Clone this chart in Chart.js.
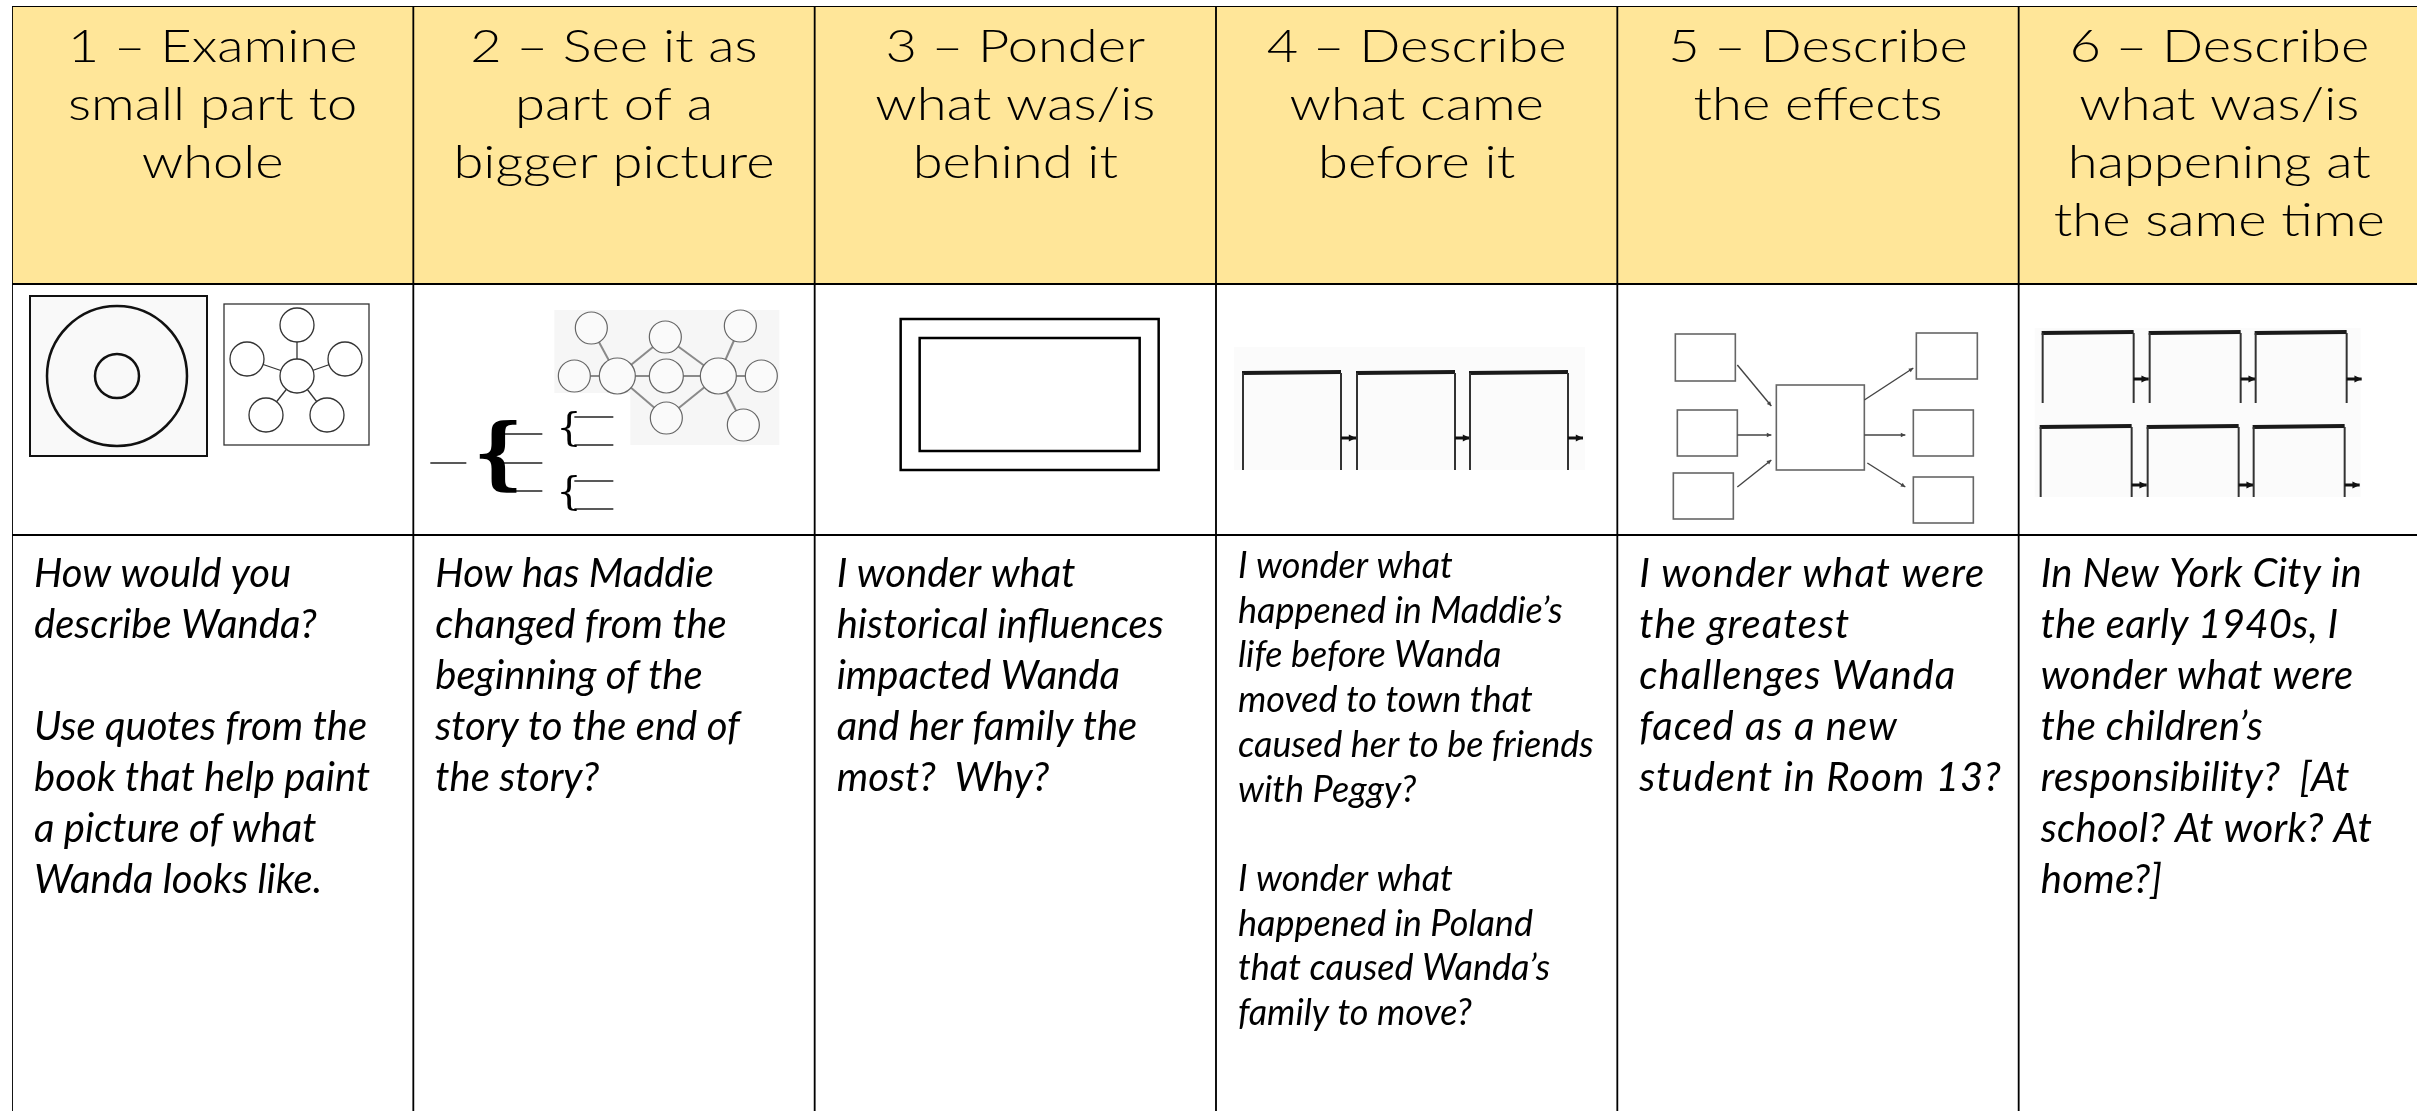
<!DOCTYPE html>
<html>
<head>
<meta charset="utf-8">
<script src="https://cdn.jsdelivr.net/npm/chart.js@4.4.1/dist/chart.umd.min.js"></script>
<style>
  html, body { margin: 0; padding: 0; background: #fff; overflow: hidden; }
  #wrap { width: 2440px; height: 1111px; }
</style>
</head>
<body>
<div id="wrap"><canvas id="table" width="2440" height="1111"></canvas></div>
<script>

// column headings, one array of lines per column
const headings = [
  ["1 – Examine", "small part to", "whole"],
  ["2 – See it as", "part of a", "bigger picture"],
  ["3 – Ponder", "what was/is", "behind it"],
  ["4 – Describe", "what came", "before it"],
  ["5 – Describe", "the effects"],
  ["6 – Describe", "what was/is", "happening at", "the same time"],
];

// prompt text in the bottom row ("" = empty line)
const prompts = [
  ["How would you", "describe Wanda?", "", "Use quotes from the", "book that help paint", "a picture of what", "Wanda looks like."],
  ["How has Maddie", "changed from the", "beginning of the", "story to the end of", "the story?"],
  ["I wonder what", "historical influences", "impacted Wanda", "and her family the", "most?  Why?"],
  ["I wonder what", "happened in Maddie’s", "life before Wanda", "moved to town that", "caused her to be friends", "with Peggy?", "", "I wonder what", "happened in Poland", "that caused Wanda’s", "family to move?"],
  ["I wonder what were", "the greatest", "challenges Wanda", "faced as a new", "student in Room 13?"],
  ["In New York City in", "the early 1940s, I", "wonder what were", "the children’s", "responsibility?  [At", "school? At work? At", "home?]"],
];

// the three table rows as floating bar ranges (table units from the top)
const rowNames = ["heading", "sketch", "prompt"];
const rowStart = [0, 278, 529];
const rowEnd = [278, 529, 1140];

const rowFill = ["#FFE699", "#FFFFFF", "#FFFFFF"];

// per column text look for the prompt row
const promptStyle = [
  { size: 40, lead: 51, first: 52, spacing: 0 },
  { size: 40, lead: 51, first: 52, spacing: 0 },
  { size: 40, lead: 51, first: 52, spacing: 0 },
  { size: 36, lead: 44.7, first: 43, spacing: 0 },
  { size: 40, lead: 51, first: 52, spacing: 1 },
  { size: 40, lead: 51, first: 52, spacing: 0.3 },
];

function circle(ctx, cx, cy, r, fill) {
  ctx.beginPath();
  ctx.arc(cx, cy, r, 0, Math.PI * 2);
  if (fill) { ctx.fillStyle = fill; ctx.fill(); }
  ctx.stroke();
}

function line(ctx, x1, y1, x2, y2) {
  ctx.beginPath();
  ctx.moveTo(x1, y1);
  ctx.lineTo(x2, y2);
  ctx.stroke();
}

function arrow(ctx, x1, y1, x2, y2, head) {
  line(ctx, x1, y1, x2, y2);
  const a = Math.atan2(y2 - y1, x2 - x1);
  ctx.beginPath();
  ctx.moveTo(x2, y2);
  ctx.lineTo(x2 - head * Math.cos(a - 0.45), y2 - head * Math.sin(a - 0.45));
  ctx.lineTo(x2 - head * Math.cos(a + 0.45), y2 - head * Math.sin(a + 0.45));
  ctx.closePath();
  ctx.fillStyle = ctx.strokeStyle;
  ctx.fill();
}

// bracket row used in columns 4 and 6
function brackets(ctx, ox, oy, xs, top, bottom, arrowY, w) {
  xs.forEach((bx) => {
    ctx.strokeStyle = "#1a1a1a";
    ctx.lineWidth = 4;
    line(ctx, ox + bx, oy + top, ox + bx + w, oy + top - 1);
    ctx.lineWidth = 2;
    ctx.strokeStyle = "#333";
    line(ctx, ox + bx + 1, oy + top, ox + bx + 1, oy + bottom);
    line(ctx, ox + bx + w, oy + top, ox + bx + w, oy + bottom);
    ctx.strokeStyle = "#111";
    ctx.lineWidth = 3;
    arrow(ctx, ox + bx + w, oy + arrowY, ox + bx + w + 15, oy + arrowY, 8);
  });
}

const sketches = [
  // 1 - circle map and bubble map
  (ctx, ox, oy) => {
    ctx.fillStyle = "#f9f9f9";
    ctx.fillRect(ox + 18, oy + 12, 177, 160);
    ctx.strokeStyle = "#111";
    ctx.lineWidth = 2;
    ctx.strokeRect(ox + 18, oy + 12, 177, 160);
    ctx.lineWidth = 2.5;
    circle(ctx, ox + 105, oy + 92, 70);
    circle(ctx, ox + 105, oy + 92, 22);
    ctx.lineWidth = 1.3;
    ctx.strokeStyle = "#333";
    ctx.strokeRect(ox + 212, oy + 20, 145, 141);
    const c = [285, 92];
    const outer = [[285, 41], [235, 75], [333, 75], [254, 131], [315, 131]];
    outer.forEach((p) => line(ctx, ox + c[0], oy + c[1], ox + p[0], oy + p[1]));
    circle(ctx, ox + c[0], oy + c[1], 17, "#fff");
    outer.forEach((p) => circle(ctx, ox + p[0], oy + p[1], 17, "#fff"));
  },
  // 2 - brace map and double bubble map
  (ctx, ox, oy) => {
    ctx.fillStyle = "#f6f6f6";
    ctx.fillRect(ox + 141, oy + 26, 225, 83);
    ctx.fillRect(ox + 217, oy + 109, 149, 52);
    const nodes = [
      [178, 44, 16], [252, 53, 16], [327, 42, 16],
      [161, 92, 16], [204, 92, 18], [253, 92, 17], [305, 92, 18], [348, 92, 16],
      [253, 134, 16], [330, 141, 16],
    ];
    const links = [[0, 4], [3, 4], [4, 5], [5, 6], [6, 7], [4, 1], [1, 6], [4, 8], [8, 6], [2, 6], [6, 9]];
    ctx.strokeStyle = "#8a8a8a";
    ctx.lineWidth = 2;
    links.forEach(([a, b]) => line(ctx, ox + nodes[a][0], oy + nodes[a][1], ox + nodes[b][0], oy + nodes[b][1]));
    ctx.lineWidth = 1.2;
    ctx.strokeStyle = "#666";
    nodes.forEach((n) => circle(ctx, ox + n[0], oy + n[1], n[2], "#fafafa"));
    ctx.strokeStyle = "#222";
    ctx.lineWidth = 1.5;
    line(ctx, ox + 17, oy + 179, ox + 53, oy + 179);
    [150, 179, 207].forEach((yy) => line(ctx, ox + 90, oy + yy, ox + 129, oy + yy));
    [133, 161, 197, 225].forEach((yy) => line(ctx, ox + 161, oy + yy, ox + 200, oy + yy));
    ctx.fillStyle = "#000";
    ctx.textAlign = "left";
    ctx.textBaseline = "middle";
    ctx.font = "bold 78px 'DejaVu Serif'";
    ctx.fillText("{", ox + 60, oy + 176);
    ctx.font = "40px 'DejaVu Serif'";
    ctx.fillText("{", ox + 143, oy + 146);
    ctx.fillText("{", ox + 143, oy + 210);
    ctx.textBaseline = "alphabetic";
  },
  // 3 - frame
  (ctx, ox, oy) => {
    ctx.strokeStyle = "#000";
    ctx.lineWidth = 2.5;
    ctx.strokeRect(ox + 86, oy + 35, 258, 151);
    ctx.strokeRect(ox + 105, oy + 54, 220, 113);
  },
  // 4 - flow of brackets
  (ctx, ox, oy) => {
    ctx.fillStyle = "#fbfbfb";
    ctx.fillRect(ox + 18, oy + 63, 351, 123);
    brackets(ctx, ox, oy, [26, 140, 253], 89, 186, 154, 99);
  },
  // 5 - multi-flow map
  (ctx, ox, oy) => {
    ctx.strokeStyle = "#666";
    ctx.lineWidth = 1.6;
    [[58, 50, 60, 47], [60, 126, 60, 46], [56, 189, 60, 46], [159, 101, 88, 85],
     [299, 49, 61, 46], [296, 126, 60, 46], [296, 193, 60, 46]]
      .forEach((b) => ctx.strokeRect(ox + b[0], oy + b[1], b[2], b[3]));
    ctx.strokeStyle = "#444";
    ctx.lineWidth = 1.4;
    [[120, 81, 154, 122], [120, 151, 154, 151], [120, 203, 154, 176],
     [247, 116, 296, 84], [247, 151, 288, 151], [250, 179, 288, 203]]
      .forEach((a) => arrow(ctx, ox + a[0], oy + a[1], ox + a[2], oy + a[3], 5));
  },
  // 6 - two rows of brackets
  (ctx, ox, oy) => {
    ctx.fillStyle = "#fbfbfb";
    ctx.fillRect(ox + 16, oy + 44, 326, 169);
    brackets(ctx, ox, oy, [23, 130, 236], 49, 119, 95, 92);
    brackets(ctx, ox, oy, [21, 128, 234], 143, 213, 201, 92);
  },
];

const tableText = {
  id: "tableText",
  afterDatasetsDraw(chart) {
    const ctx = chart.ctx;
    const y = chart.scales.y;
    const bars = chart.getDatasetMeta(0).data;
    ctx.save();
    bars.forEach((bar, i) => {
      const left = bar.x - bar.width / 2;
      // heading, widened a little to stand in for Century Gothic
      ctx.fillStyle = "#000";
      ctx.textAlign = "center";
      ctx.font = "300 46px Lato";
      const headTop = y.getPixelForValue(rowStart[0]);
      headings[i].forEach((txt, k) => {
        ctx.save();
        ctx.translate(bar.x, headTop + 56 + k * 58);
        ctx.scale(1.18, 1);
        ctx.fillText(txt, 0, 0);
        ctx.restore();
      });
      // sketch
      ctx.save();
      sketches[i](ctx, left, y.getPixelForValue(rowStart[1]));
      ctx.restore();
      // prompt
      const st = promptStyle[i];
      ctx.fillStyle = "#000";
      ctx.textAlign = "left";
      ctx.font = "italic " + st.size + "px Lato";
      ctx.letterSpacing = st.spacing + "px";
      const top = y.getPixelForValue(rowStart[2]);
      prompts[i].forEach((txt, k) => ctx.fillText(txt, left + 22, top + st.first + k * st.lead));
      ctx.letterSpacing = "0px";
    });
    ctx.restore();
  },
};

function build() {
  new Chart(document.getElementById("table"), {
    type: "bar",
    data: {
      labels: headings.map((h) => h.join(" ")),
      datasets: rowNames.map((name, r) => ({
        label: name,
        data: headings.map(() => [rowStart[r], rowEnd[r]]),
        backgroundColor: rowFill[r],
        borderColor: "#000",
        borderWidth: 1.25,
        borderSkipped: false,
        grouped: false,
        barPercentage: 1,
        categoryPercentage: 1,
      })),
    },
    options: {
      responsive: false,
      devicePixelRatio: 1,
      animation: false,
      layout: { padding: { left: 12, right: 20, top: 6, bottom: 0 } },
      scales: {
        x: { display: false },
        y: { display: false, min: 0, max: 1105, reverse: true },
      },
      plugins: {
        legend: { display: false },
        tooltip: { enabled: false },
      },
    },
    plugins: [tableText],
  });
}

document.fonts.ready.then(build);
</script>
</body>
</html>
